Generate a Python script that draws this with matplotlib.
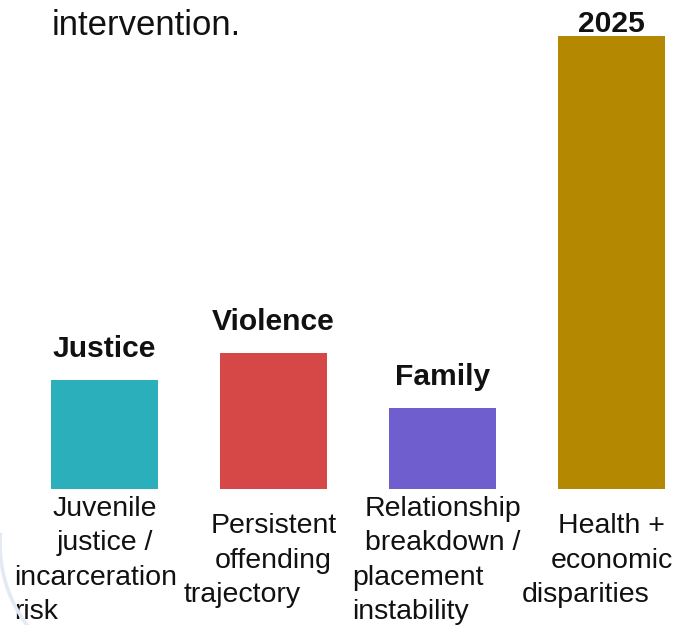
import numpy as np
import matplotlib
matplotlib.use("Agg")
import matplotlib.pyplot as plt
from matplotlib.lines import Line2D

# ---- data ----
categories = ["Justice", "Violence", "Family", "2025"]
values = [24, 30, 18, 100]
descriptions = [
    ["Juvenile", "justice /", "incarceration", "risk"],
    ["Persistent", "offending", "trajectory"],
    ["Relationship", "breakdown /", "placement", "instability"],
    ["Health +", "economic", "disparities"],
]
heading = "intervention."

# ---- style ----
colors = ["#2BAFBB", "#D64848", "#6E5ECE", "#B48800"]
plt.rcParams['font.family'] = ['Liberation Sans', 'DejaVu Sans']

W, H = 679, 625
fig = plt.figure(figsize=(W / 100, H / 100), dpi=100)
ax = fig.add_axes([0, 0, 1, 1])
ylo, yhi = -30.0, 107.95
ax.set_xlim(-0.618, 3.399)
ax.set_ylim(ylo, yhi)
ax.axis('off')

# faint decorative arc (figure-pixel geometry, y measured from top)
cx, cy, r = 135, 544, 135
th = np.radians(np.linspace(176, 222, 100))
ax_pts = cx + r * np.cos(th)
ay_pts = cy - r * np.sin(th)
fig.add_artist(Line2D(ax_pts / W, 1 - ay_pts / H, transform=fig.transFigure,
                      color='#e4eaf3', lw=2.6))

xs = list(range(len(categories)))
ax.bar(xs, values, width=0.633, color=colors)

px_per_unit = H / (yhi - ylo)
for i, (cat, v) in enumerate(zip(categories, values)):
    room = (yhi - v) * px_per_unit
    off = min(23, room - 32)
    ax.annotate(cat, xy=(i, v), xytext=(0, off), textcoords='offset pixels',
                ha='center', va='baseline', fontsize=21.6, fontweight='bold',
                color='#111111')

line_gap = 34.5
for i, lines in enumerate(descriptions):
    n = len(lines)
    for j, line in enumerate(lines):
        dy = -(78.5 + (j - (n - 1) / 2) * line_gap)
        if j < 2:
            dx, ha = 0, 'center'
        else:
            dx, ha = -90, 'left'
        ax.annotate(line, xy=(i, 0), xytext=(dx, dy), textcoords='offset pixels',
                    ha=ha, va='baseline', fontsize=20.5, color='#111111')

fig.text(52 / W, 1 - 35 / H, heading, fontsize=25, ha='left', va='baseline',
         color='#111111')

fig.savefig("out.png", dpi=100)
